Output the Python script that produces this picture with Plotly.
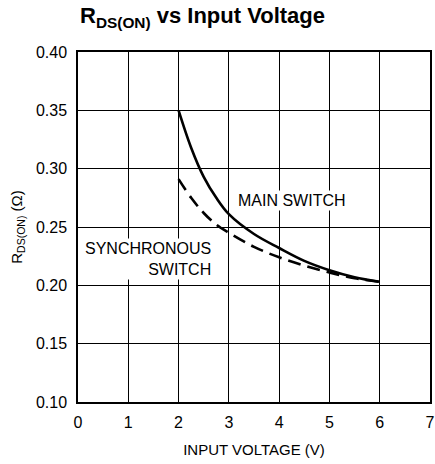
import plotly.graph_objects as go

main_v = [2.0, 2.25, 2.5, 2.75, 3.0, 3.5, 4.0, 4.5, 5.0, 5.5, 6.0]
main_r = [0.350, 0.318, 0.293, 0.275, 0.261, 0.244, 0.232, 0.221, 0.213, 0.207, 0.203]
sync_v = [2.0, 2.25, 2.5, 2.75, 3.0, 3.5, 4.0, 4.5, 5.0, 5.5, 6.0]
sync_r = [0.291, 0.275, 0.262, 0.252, 0.245, 0.233, 0.224, 0.217, 0.211, 0.206, 0.203]

FONT = "Liberation Sans, Arial, sans-serif"

fig = go.Figure()
fig.add_trace(go.Scatter(x=main_v, y=main_r, mode="lines", line=dict(color="black", width=2.6, shape="spline"),
                         showlegend=False, hoverinfo="skip"))
fig.add_trace(go.Scatter(x=sync_v, y=sync_r, mode="lines", line=dict(color="black", width=2.6, dash="13px,7px", shape="spline"),
                         showlegend=False, hoverinfo="skip"))

fig.add_annotation(x=4.26, y=0.273, text="MAIN SWITCH", showarrow=False, bgcolor="white",
                   font=dict(family=FONT, size=16, color="black"), xanchor="center", yanchor="middle")
fig.add_annotation(x=2.69, y=0.2225, text="SYNCHRONOUS<br>SWITCH", showarrow=False, bgcolor="white",
                   font=dict(family=FONT, size=16, color="black"), xanchor="right", yanchor="middle", align="right")

axis_common = dict(showline=True, linecolor="black", linewidth=1.5, mirror=True,
                   showgrid=True, gridcolor="black", gridwidth=1, zeroline=False, automargin=False,
                   ticks="outside", tickcolor="rgba(0,0,0,0)", ticklabeloverflow="allow",
                   tickfont=dict(family=FONT, size=16, color="black"))
fig.update_xaxes(range=[0, 7], dtick=1, ticklen=5,
                 title=dict(text="INPUT VOLTAGE (V)", font=dict(family=FONT, size=15, color="black"), standoff=15),
                 **axis_common)
fig.update_yaxes(range=[0.10, 0.40], dtick=0.05, tickformat=".2f", ticklen=6,
                 title=dict(text="R<sub>DS(ON)</sub> (Ω)", font=dict(family=FONT, size=15, color="black"), standoff=10),
                 **axis_common)

fig.update_layout(
    width=435, height=464,
    margin=dict(l=78, r=5, t=52, b=62),
    plot_bgcolor="white", paper_bgcolor="white",
    title=dict(text="<b>R<sub>DS(ON)</sub> vs Input Voltage</b>", x=80/435, xanchor="left",
               y=1 - 8/464, yanchor="top", pad=dict(t=0, b=0, l=0, r=0),
               font=dict(family=FONT, size=22, color="black")),
)

fig.write_html("out.html", config={"displayModeBar": False},
               post_script="document.body.style.margin='0';document.body.style.overflow='hidden';")
